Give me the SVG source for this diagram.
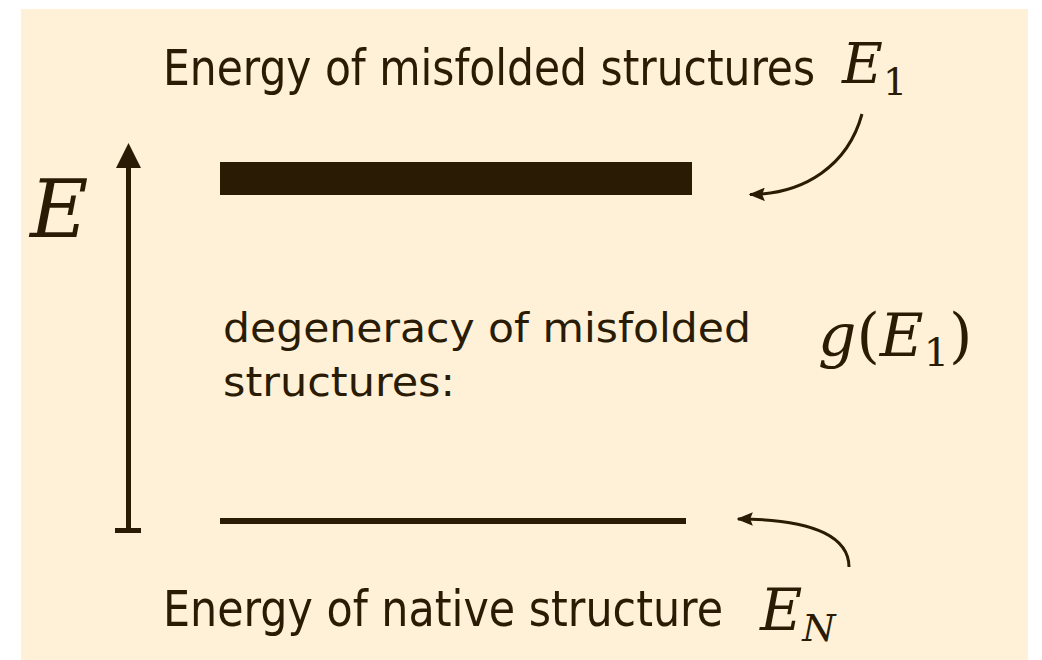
<svg xmlns="http://www.w3.org/2000/svg" width="1042" height="660" viewBox="0 0 1042 660">
  <defs>
    <style>
      .lbl { font-family: "DejaVu Sans Condensed", "DejaVu Sans", sans-serif; font-stretch: condensed; fill: #2a1c04; }
      .body { font-family: "DejaVu Sans", sans-serif; fill: #2a1c04; }
      .math { font-family: "DejaVu Serif", "Liberation Serif", serif; font-style: italic; fill: #2a1c04; }
      .up { font-style: normal; }
      .ink { stroke: #2a1c04; fill: none; }
    </style>
    <marker id="head" viewBox="0 0 12 10" refX="11" refY="5" markerWidth="5.5" markerHeight="4.5" orient="auto" markerUnits="strokeWidth">
      <path d="M0,0 L12,5 L0,10 L2,5 z" fill="#2a1c04"/>
    </marker>
  </defs>

  <rect x="0" y="0" width="1042" height="660" fill="#ffffff"/>
  <rect x="21" y="9" width="1007" height="651" fill="#fff1d8"/>

  <!-- energy axis -->
  <g id="axis">
    <line class="ink" x1="128.5" y1="165" x2="128.5" y2="531" stroke-width="5"/>
    <polygon points="128.5,143 116,168 141,168" fill="#2a1c04"/>
    <line class="ink" x1="115" y1="530.5" x2="141" y2="530.5" stroke-width="5"/>
    <text class="math" x="30" y="237" font-size="80">E</text>
  </g>

  <!-- misfolded level -->
  <g id="level-misfolded">
    <rect x="220" y="162" width="472" height="33" fill="#2a1c04"/>
    <text class="lbl" x="163" y="85" font-size="50" textLength="652" lengthAdjust="spacingAndGlyphs">Energy of misfolded structures</text>
    <text class="math" x="842" y="83" font-size="56">E<tspan class="up" font-size="38" dy="12">1</tspan></text>
  </g>

  <!-- native level -->
  <g id="level-native">
    <rect x="220" y="518" width="466" height="6" fill="#2a1c04"/>
    <text class="lbl" x="163" y="626" font-size="50" textLength="560" lengthAdjust="spacingAndGlyphs">Energy of native structure</text>
    <text class="math" x="760" y="630" font-size="58">E<tspan font-size="38" dy="11">N</tspan></text>
  </g>

  <!-- degeneracy -->
  <g id="degeneracy">
    <text class="body" x="223" y="342" font-size="41" textLength="528" lengthAdjust="spacingAndGlyphs">degeneracy of misfolded</text>
    <text class="body" x="223" y="396" font-size="41" textLength="232" lengthAdjust="spacingAndGlyphs">structures:</text>
    <text class="math" x="818" y="356" font-size="60">g<tspan class="up">(</tspan>E<tspan class="up" font-size="40" dy="10">1</tspan><tspan class="up" dy="-10">)</tspan></text>
  </g>

  <!-- connectors -->
  <g id="connectors">
    <path class="ink" d="M862,114 C848,165 805,194 750,194.5" stroke-width="3" marker-end="url(#head)"/>
    <path class="ink" d="M849,567 C849,540 820,519 738,519" stroke-width="3" marker-end="url(#head)"/>
  </g>
</svg>
